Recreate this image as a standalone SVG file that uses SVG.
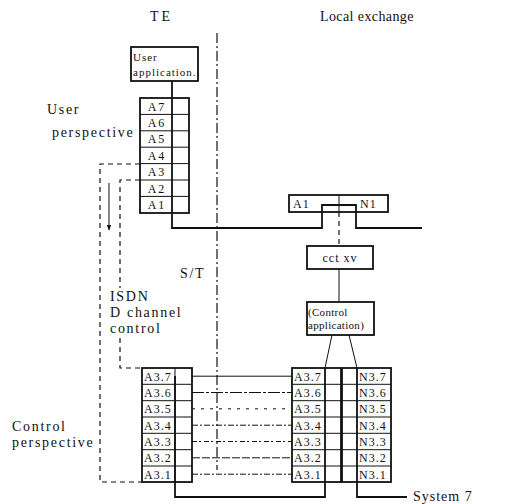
<svg xmlns="http://www.w3.org/2000/svg" width="506" height="504" viewBox="0 0 506 504" font-family="'Liberation Serif','Times New Roman',serif">
<style>
text{font-family:"Liberation Serif","Times New Roman",serif;fill:#111}
.lbl{font-size:14px;letter-spacing:1.7px}
.ttl{font-size:14px;letter-spacing:0.4px}
.cell{font-size:12px;letter-spacing:1px}
.box{fill:#fff;stroke:#111;stroke-width:1.8}
.thin{stroke:#111;stroke-width:1;fill:none}
.thick{stroke:#111;stroke-width:1.8;fill:none}
.dash{stroke:#111;stroke-width:1.2;fill:none;stroke-dasharray:5 4}
.dd{stroke:#111;stroke-width:1.2;fill:none;stroke-dasharray:10 3 2 3}
</style>
<defs>
<marker id="ah" viewBox="0 0 10 10" refX="9" refY="5" markerWidth="6" markerHeight="6" orient="auto"><path d="M0,1 L10,5 L0,9 z" fill="#111"/></marker>
</defs>

<g id="titles">
<text class="ttl" x="150" y="21" style="letter-spacing:3px">TE</text>
<text class="ttl" x="320" y="21">Local exchange</text>
<text class="lbl" x="47" y="114">User</text>
<text class="lbl" x="52" y="137">perspective</text>
<text class="lbl" x="12" y="431">Control</text>
<text class="lbl" x="12" y="447">perspective</text>
<text class="lbl" x="110" y="301">ISDN</text>
<text class="lbl" x="110" y="317">D channel</text>
<text class="lbl" x="110" y="333">control</text>
<text class="lbl" x="180" y="278">S/T</text>
<text class="lbl" x="413" y="501" style="letter-spacing:1px">System 7</text>
</g>

<g id="st-boundary">
<line x1="217" y1="33" x2="217" y2="470" class="dd"/>
</g>

<g id="connectors">
<line x1="172" y1="81" x2="172" y2="98" class="thick"/>
<polyline points="172,98 172,228 322,228 322,205 356,205 356,228 422,228" class="thick"/>
<line x1="339" y1="212" x2="339" y2="246" class="dash"/>
<line x1="339" y1="269" x2="339" y2="302" class="thin"/>
<line x1="332" y1="335" x2="325" y2="368" class="thin"/>
<line x1="349" y1="335" x2="357" y2="368" class="thin"/>
<polyline points="175,376 175,497 325,497 325,368" class="thick"/>
<polyline points="357,368 357,497 407,497" class="thick"/>
<polyline points="140,164 100,164 100,482 142,482" class="dash"/>
<polyline points="140,180 120,180 120,288" class="dash"/>
<polyline points="120,338 120,368 142,368" class="dash"/>
<line x1="109" y1="183" x2="109" y2="230" class="thin" marker-end="url(#ah)"/>
<line x1="192" y1="376.2" x2="292" y2="376.2" class="thin"/>
<line x1="192" y1="392.5" x2="292" y2="392.5" class="thin" stroke-dasharray="12 2 3 2"/>
<line x1="192" y1="408.8" x2="292" y2="408.8" class="thin" stroke-dasharray="3 6"/>
<line x1="192" y1="425.2" x2="292" y2="425.2" class="thin" stroke-dasharray="6 2 2 2"/>
<line x1="192" y1="441.5" x2="292" y2="441.5" class="thin" stroke-dasharray="5 2 2 3"/>
<line x1="192" y1="457.8" x2="292" y2="457.8" class="thin" stroke-dasharray="8 2"/>
<line x1="192" y1="474.2" x2="292" y2="474.2" class="thin" stroke-dasharray="6 2 2 2"/>
</g>

<g id="user-application">
<rect x="131" y="47" width="67" height="34" class="box"/>
<text class="cell" x="133" y="61" style="font-size:11px">User</text>
<text class="cell" x="133" y="76" style="font-size:11px">application.</text>
</g>

<g id="te-user-stack">
<rect x="140" y="98" width="49" height="115" class="box" style="fill:none"/>
<g class="thin">
<line x1="140" y1="114.4" x2="189" y2="114.4"/>
<line x1="140" y1="130.8" x2="189" y2="130.8"/>
<line x1="140" y1="147.2" x2="189" y2="147.2"/>
<line x1="140" y1="163.6" x2="189" y2="163.6"/>
<line x1="140" y1="180" x2="189" y2="180"/>
<line x1="140" y1="196.4" x2="189" y2="196.4"/>
</g>
<g class="cell" text-anchor="middle" style="letter-spacing:2px">
<text x="157" y="110.5">A7</text>
<text x="157" y="126.9">A6</text>
<text x="157" y="143.3">A5</text>
<text x="157" y="159.7">A4</text>
<text x="157" y="176.1">A3</text>
<text x="157" y="192.5">A2</text>
<text x="157" y="208.9">A1</text>
</g>
</g>

<g id="le-a1-n1">
<rect x="289" y="195" width="99" height="17" class="box" style="fill:none"/>
<line x1="339" y1="195" x2="339" y2="212" class="thin"/>
<text class="cell" x="293" y="208">A1</text>
<text class="cell" x="360" y="208">N1</text>
</g>

<g id="cct-xv">
<rect x="307" y="246" width="66" height="23" class="box"/>
<text class="cell" x="340" y="262" text-anchor="middle">cct xv</text>
</g>

<g id="control-application">
<rect x="307" y="302" width="67" height="33" class="box"/>
<text class="cell" x="308" y="316" style="font-size:11px;letter-spacing:0.3px">(Control</text>
<text class="cell" x="308" y="329" style="font-size:11px;letter-spacing:0.3px">application)</text>
</g>

<g id="te-control-stack">
<rect x="142" y="368" width="50" height="114" class="box" style="fill:none"/>
<line x1="175" y1="368" x2="175" y2="482" class="thin"/>
<g class="thin">
<line x1="142" y1="384.3" x2="192" y2="384.3"/>
<line x1="142" y1="400.7" x2="192" y2="400.7"/>
<line x1="142" y1="417" x2="192" y2="417"/>
<line x1="142" y1="433.3" x2="192" y2="433.3"/>
<line x1="142" y1="449.7" x2="192" y2="449.7"/>
<line x1="142" y1="466" x2="192" y2="466"/>
</g>
<g class="cell">
<text x="144" y="380.6">A3.7</text>
<text x="144" y="396.9">A3.6</text>
<text x="144" y="413.2">A3.5</text>
<text x="144" y="429.6">A3.4</text>
<text x="144" y="445.9">A3.3</text>
<text x="144" y="462.2">A3.2</text>
<text x="144" y="478.6">A3.1</text>
</g>
</g>

<g id="le-a3-stack">
<rect x="292" y="368" width="49" height="114" class="box" style="fill:none"/>
<g class="thin">
<line x1="292" y1="384.3" x2="341" y2="384.3"/>
<line x1="292" y1="400.7" x2="341" y2="400.7"/>
<line x1="292" y1="417" x2="341" y2="417"/>
<line x1="292" y1="433.3" x2="341" y2="433.3"/>
<line x1="292" y1="449.7" x2="341" y2="449.7"/>
<line x1="292" y1="466" x2="341" y2="466"/>
</g>
<g class="cell">
<text x="294" y="380.6">A3.7</text>
<text x="294" y="396.9">A3.6</text>
<text x="294" y="413.2">A3.5</text>
<text x="294" y="429.6">A3.4</text>
<text x="294" y="445.9">A3.3</text>
<text x="294" y="462.2">A3.2</text>
<text x="294" y="478.6">A3.1</text>
</g>
</g>

<g id="le-n3-stack">
<rect x="342" y="368" width="49" height="114" class="box" style="fill:none"/>
<g class="thin">
<line x1="342" y1="384.3" x2="391" y2="384.3"/>
<line x1="342" y1="400.7" x2="391" y2="400.7"/>
<line x1="342" y1="417" x2="391" y2="417"/>
<line x1="342" y1="433.3" x2="391" y2="433.3"/>
<line x1="342" y1="449.7" x2="391" y2="449.7"/>
<line x1="342" y1="466" x2="391" y2="466"/>
</g>
<g class="cell">
<text x="359" y="380.6">N3.7</text>
<text x="359" y="396.9">N3.6</text>
<text x="359" y="413.2">N3.5</text>
<text x="359" y="429.6">N3.4</text>
<text x="359" y="445.9">N3.3</text>
<text x="359" y="462.2">N3.2</text>
<text x="359" y="478.6">N3.1</text>
</g>
</g>
</svg>
